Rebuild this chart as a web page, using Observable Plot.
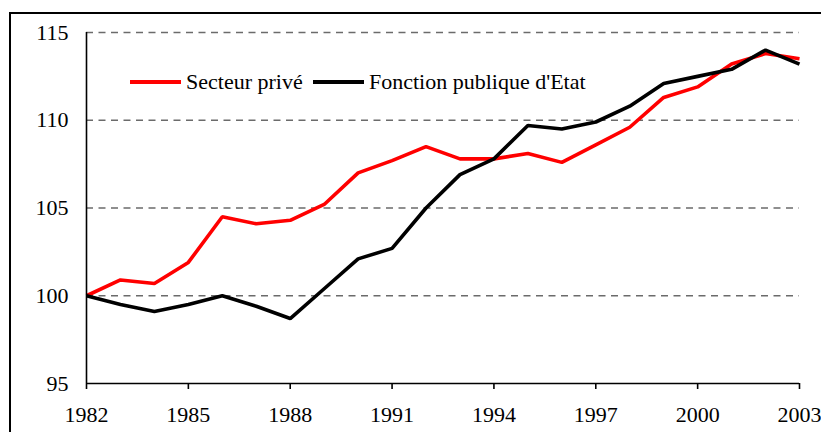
<!DOCTYPE html>
<html>
<head>
<meta charset="utf-8">
<script src="https://cdn.jsdelivr.net/npm/d3@7"></script>
<script src="https://cdn.jsdelivr.net/npm/@observablehq/plot@0.6"></script>
<style>
  html, body { margin: 0; padding: 0; background: #fff; overflow: hidden; font-family: 'Liberation Serif', serif; }
  #wrap { position: relative; width: 821px; height: 432px; overflow: hidden; }
  #wrap svg, #wrap svg text { font-family: 'Liberation Serif', serif !important; }
  #frame { position: absolute; left: 9px; top: 12px; width: 900px; height: 500px; border: 2px solid #000; box-sizing: border-box; pointer-events: none; }
  .leg { position: absolute; display: flex; align-items: center; font-family: 'Liberation Serif', serif; font-size: 22px; color: #000; white-space: nowrap; height: 26px; }
  .sw { width: 51px; height: 4px; margin-right: 5px; }
</style>
</head>
<body>
<div id="wrap"><div id="frame"></div></div>
<script>
const years = [1982,1983,1984,1985,1986,1987,1988,1989,1990,1991,1992,1993,1994,1995,1996,1997,1998,1999,2000,2001,2002,2003];
const secteurPrive = [100.0,100.9,100.7,101.9,104.5,104.1,104.3,105.2,107.0,107.7,108.5,107.8,107.8,108.1,107.6,108.6,109.6,111.3,111.9,113.2,113.8,113.5];
const fonctionPublique = [100.0,99.5,99.1,99.5,100.0,99.4,98.7,100.4,102.1,102.7,105.0,106.9,107.8,109.7,109.5,109.9,110.8,112.1,112.5,112.9,114.0,113.2];
const seriesNames = ["Secteur privé", "Fonction publique d'Etat"];
const seriesColors = ["#ff0000", "#000000"];
const yTicks = [95, 100, 105, 110, 115];
const gridValues = [100, 105, 110, 115];
const xTicks = [1982, 1985, 1988, 1991, 1994, 1997, 2000, 2003];

const rows = [];
years.forEach((y, i) => {
  rows.push({year: y, value: secteurPrive[i], series: seriesNames[0]});
});
years.forEach((y, i) => {
  rows.push({year: y, value: fonctionPublique[i], series: seriesNames[1]});
});

const font = "Liberation Serif";

const chart = Plot.plot({
  width: 821,
  height: 432,
  marginLeft: 86,
  marginRight: 22,
  marginTop: 32,
  marginBottom: 49,
  style: {fontFamily: font, fontSize: "22px", background: "transparent", color: "#000", overflow: "visible"},
  x: {domain: [1982, 2003]},
  y: {domain: [95, 115]},
  color: {domain: seriesNames, range: seriesColors},
  marks: [
    Plot.ruleY(gridValues, {stroke: "#6b6b6b", strokeWidth: 1.3, strokeDasharray: "7,5.5"}),
    Plot.line(rows.filter(d => d.series === seriesNames[0]), {x: "year", y: "value", stroke: "series", strokeWidth: 3.6, strokeLinejoin: "miter", strokeLinecap: "butt"}),
    Plot.line(rows.filter(d => d.series === seriesNames[1]), {x: "year", y: "value", stroke: "series", strokeWidth: 3.6, strokeLinejoin: "miter", strokeLinecap: "butt"}),
    Plot.ruleX([1982], {stroke: "#000", strokeWidth: 1.6}),
    Plot.ruleY([95], {stroke: "#000", strokeWidth: 1.6}),
    Plot.axisY({ticks: yTicks, tickSize: 0, tickPadding: 18, fontSize: 22, fontFamily: font, tickFormat: d => String(d), label: null}),
    Plot.axisX({ticks: xTicks, tickSize: 6, tickPadding: 17, fontSize: 22, fontFamily: font, strokeWidth: 1.6, tickFormat: d => String(d), label: null})
  ]
});

const wrap = document.getElementById("wrap");
wrap.insertBefore(chart, wrap.firstChild);

const legPos = [130, 313];
seriesNames.forEach((name, i) => {
  const item = document.createElement("div");
  item.className = "leg";
  item.style.left = legPos[i] + "px";
  item.style.top = "69px";
  const sw = document.createElement("div");
  sw.className = "sw";
  sw.style.background = seriesColors[i];
  const t = document.createElement("span");
  t.textContent = name;
  item.appendChild(sw);
  item.appendChild(t);
  wrap.appendChild(item);
});
</script>
</body>
</html>
